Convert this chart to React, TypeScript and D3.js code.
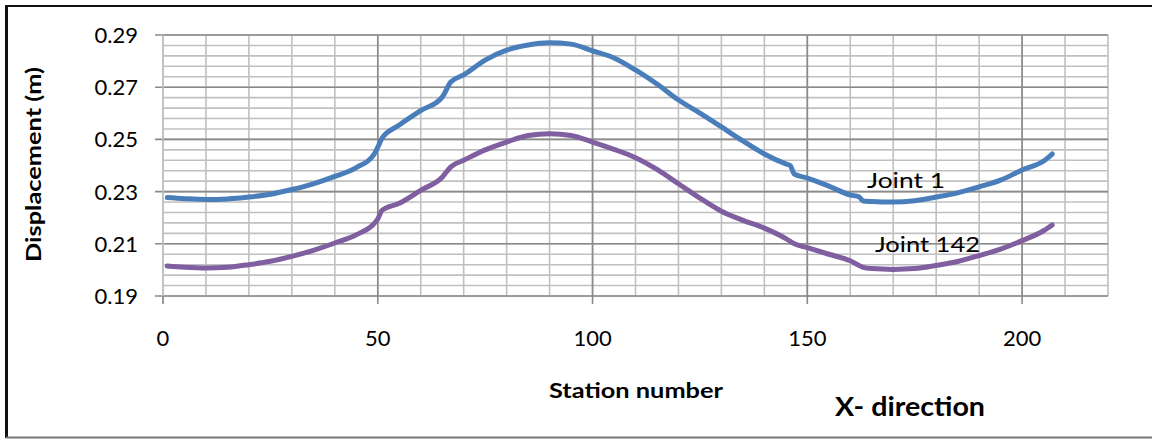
import React from "react";
import * as d3 from "d3";

const stations1 = [1, 5, 10, 15, 20, 25, 30, 35, 40, 45, 49, 50, 51, 55, 60, 65, 67, 70, 75, 80, 85, 90, 95, 100, 105, 110, 115, 120, 125, 130, 135, 140, 145, 146, 147, 150, 155, 160, 162, 163, 165, 170, 175, 180, 185, 190, 195, 200, 205, 207];
const joint1 = [0.2277, 0.2273, 0.2270, 0.2272, 0.2279, 0.2290, 0.2308, 0.2330, 0.2358, 0.2392, 0.2440, 0.2470, 0.2505, 0.2555, 0.2610, 0.2662, 0.2720, 0.2747, 0.2804, 0.2842, 0.2862, 0.2870, 0.2865, 0.2839, 0.2812, 0.2766, 0.2712, 0.2651, 0.2601, 0.2548, 0.2494, 0.2444, 0.2406, 0.2400, 0.2367, 0.2352, 0.2321, 0.2287, 0.2280, 0.2264, 0.2262, 0.2260, 0.2265, 0.2279, 0.2295, 0.2318, 0.2344, 0.2383, 0.2417, 0.2444];

const stations142 = [1, 5, 10, 15, 20, 25, 30, 35, 40, 45, 49, 50, 51, 55, 60, 65, 67, 70, 75, 80, 85, 90, 95, 100, 105, 110, 115, 120, 125, 130, 135, 140, 145, 147, 150, 155, 160, 163, 165, 170, 175, 180, 185, 190, 195, 200, 205, 207];
const joint142 = [0.2015, 0.2010, 0.2007, 0.2010, 0.2020, 0.2033, 0.2052, 0.2075, 0.2103, 0.2135, 0.2175, 0.2195, 0.2228, 0.2255, 0.2305, 0.2355, 0.2395, 0.2420, 0.2460, 0.2490, 0.2515, 0.2522, 0.2515, 0.2490, 0.2462, 0.2430, 0.2385, 0.2330, 0.2275, 0.2225, 0.2190, 0.2160, 0.2120, 0.2100, 0.2085, 0.2060, 0.2035, 0.2010, 0.2005, 0.2002, 0.2005, 0.2017, 0.2032, 0.2055, 0.2080, 0.2112, 0.2150, 0.2172];

const xTicks = [0, 50, 100, 150, 200];
const yTicks = [0.19, 0.21, 0.23, 0.25, 0.27, 0.29];
const seriesNames = ["Joint 1", "Joint 142"];

const W = 1152;
const H = 439;
const FONT = "Lato, 'Open Sans', sans-serif";

export default function App() {
  const x = d3.scaleLinear().domain([0, 220]).range([163, 1108]);
  const y = d3.scaleLinear().domain([0.19, 0.29]).range([296, 35]);

  const minorX = d3.range(0, 221, 10);
  const minorY = d3.range(0, 26).map((i) => 0.19 + i * 0.004);

  const line = d3
    .line<[number, number]>()
    .x((d) => x(d[0]))
    .y((d) => y(d[1]))
    .curve(d3.curveMonotoneX);

  const d1 = line(stations1.map((s, i) => [s, joint1[i]] as [number, number]))!;
  const d142 = line(stations142.map((s, i) => [s, joint142[i]] as [number, number]))!;

  const minorColor = "#c0c0c0";
  const majorColor = "#8a8a8a";

  return (
    <svg width={W} height={H} style={{ position: "absolute", left: 0, top: 0, background: "#fff" }}>
      <rect x={0} y={0} width={W} height={H} fill="#fff" />
      {/* outer frame */}
      <line x1={6} y1={6} x2={W} y2={6} stroke="#111" strokeWidth={2} />
      <line x1={6.5} y1={5} x2={6.5} y2={438} stroke="#111" strokeWidth={3} />
      <line x1={6} y1={437.5} x2={W} y2={437.5} stroke="#777" strokeWidth={2} />

      {/* minor grid */}
      {minorY.map((v, i) => (
        <line key={"my" + i} x1={x(0)} x2={x(220)} y1={y(v)} y2={y(v)} stroke={minorColor} strokeWidth={1.6} />
      ))}
      {minorX.map((v, i) => (
        <line key={"mx" + i} x1={x(v)} x2={x(v)} y1={y(0.29)} y2={y(0.19)} stroke={minorColor} strokeWidth={1.6} />
      ))}
      {/* major grid */}
      {yTicks.map((v, i) => (
        <line key={"My" + i} x1={x(0) - 8} x2={x(220)} y1={y(v)} y2={y(v)} stroke={majorColor} strokeWidth={1.6} />
      ))}
      {xTicks.map((v, i) => (
        <line key={"Mx" + i} x1={x(v)} x2={x(v)} y1={y(0.29)} y2={y(0.19) + 8} stroke={v === 0 ? minorColor : majorColor} strokeWidth={1.6} />
      ))}
      <line x1={x(0)} x2={x(0)} y1={y(0.19)} y2={y(0.19) + 8} stroke={majorColor} strokeWidth={1.6} />

      {/* series */}
      <path d={d1} fill="none" stroke="#4a7ebb" strokeWidth={5} strokeLinejoin="round" strokeLinecap="round" />
      <path d={d142} fill="none" stroke="#7f5f9f" strokeWidth={5} strokeLinejoin="round" strokeLinecap="round" />

      {/* y tick labels */}
      {yTicks.map((v, i) => (
        <text key={"yt" + i} x={138} y={y(v)} dy="0.36em" textAnchor="end" fontFamily={FONT} fontSize={22} fill="#000">
          {v.toFixed(2)}
        </text>
      ))}
      {/* x tick labels */}
      {xTicks.map((v, i) => (
        <text key={"xt" + i} x={x(v)} y={346} textAnchor="middle" fontFamily={FONT} fontSize={22} fill="#000">
          {v}
        </text>
      ))}

      {/* series labels */}
      <text x={867} y={188} fontFamily={FONT} fontSize={22} textLength={78} lengthAdjust="spacingAndGlyphs" fill="#000">{seriesNames[0]}</text>
      <text x={875} y={252} fontFamily={FONT} fontSize={22} textLength={105} lengthAdjust="spacingAndGlyphs" fill="#000">{seriesNames[1]}</text>

      {/* axis titles */}
      <text x={549} y={398} fontFamily={FONT} fontWeight="bold" fontSize={21} textLength={174} lengthAdjust="spacingAndGlyphs" fill="#000">
        Station number
      </text>
      <text x={835} y={416} fontFamily={FONT} fontWeight="bold" fontSize={27} textLength={150} lengthAdjust="spacingAndGlyphs" fill="#000">
        X- direction
      </text>
      <text
        transform={`translate(41,262) rotate(-90)`}
        fontFamily={FONT}
        fontWeight="bold"
        fontSize={21}
        textLength={195}
        lengthAdjust="spacingAndGlyphs"
        fill="#000"
      >
        Displacement (m)
      </text>
    </svg>
  );
}
